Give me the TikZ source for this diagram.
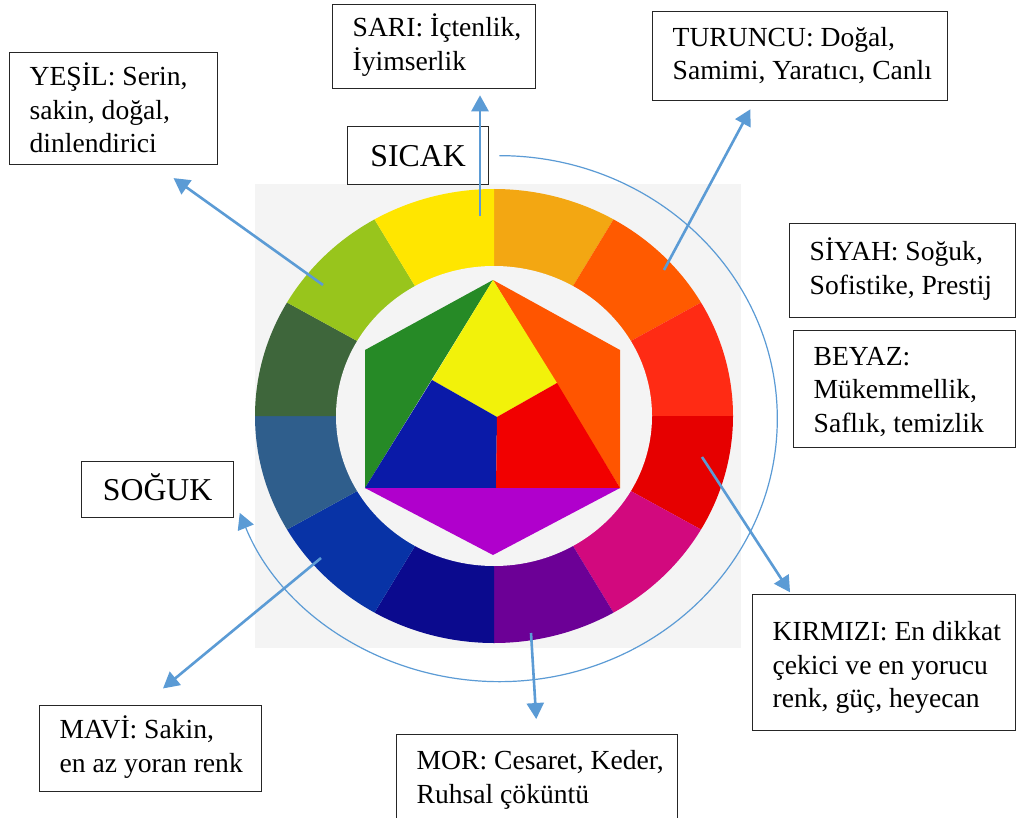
\documentclass[tikz,border=0pt]{standalone}
\usepackage{fontspec}
\setmainfont{Liberation Serif}
\usetikzlibrary{arrows.meta}

\definecolor{arrblue}{HTML}{5B9BD5}
\definecolor{wheelbg}{HTML}{F4F4F4}
\definecolor{cA}{HTML}{F3A712}
\definecolor{cB}{HTML}{FF5A00}
\definecolor{cC}{HTML}{FF2B14}
\definecolor{cD}{HTML}{E60000}
\definecolor{cE}{HTML}{D2097E}
\definecolor{cF}{HTML}{6C0096}
\definecolor{cG}{HTML}{0B0A8E}
\definecolor{cH}{HTML}{0833A6}
\definecolor{cI}{HTML}{2F5E8C}
\definecolor{cJ}{HTML}{3E663B}
\definecolor{cK}{HTML}{98C51C}
\definecolor{cL}{HTML}{FFE600}
\definecolor{hexgreen}{HTML}{268A26}
\definecolor{hexyellow}{HTML}{F2F20A}
\definecolor{hexorange}{HTML}{FF5500}
\definecolor{hexblue}{HTML}{0A1AA8}
\definecolor{hexred}{HTML}{F20000}
\definecolor{hexpurple}{HTML}{B000CC}

% left-aligned lines of a box, no wrapping (optional: lower the text)
\newcommand{\notetext}[3][0pt]{\raisebox{-#1}[\height][\depth]{\makebox[#2][l]{\begin{tabular}{@{}l@{}}#3\end{tabular}}}}

\begin{document}
\begin{tikzpicture}[x=1pt, y=-1pt,
    note/.style={draw=black!85, line width=1.3pt, anchor=north west,
        inner xsep=20pt, inner ysep=0pt, font=\fontsize{27.6}{33.5}\selectfont},
    tag/.style={draw=black!85, line width=1.3pt, anchor=north west, inner sep=0pt,
        text height=21pt, text depth=0pt, font=\fontsize{31.8}{36}\selectfont},
    arr/.style={draw=arrblue, line width=2.6pt, -{Triangle[length=16pt,width=17pt]}},
    arcline/.style={draw=arrblue, line width=1.2pt, -{Triangle[length=16pt,width=17pt]}}]
    \useasboundingbox[fill=white] (0,0) rectangle (1016,818);

    % Wheel
    \fill[wheelbg] (255,184) rectangle (741,648);
    \coordinate (c) at (494,416);
    \foreach \a/\b/\col in {-90/-60/cA,-60/-30/cB,-30/0/cC,0/30/cD,30/60/cE,60/90/cF,
                            90/120/cG,120/150/cH,150/180/cI,180/210/cJ,210/240/cK,240/270/cL} {
        \fill[\col] (c) -- ++(\a:239 and 227) arc[start angle=\a, end angle=\b, x radius=239, y radius=227] -- cycle;
    }
    \fill[wheelbg] (c) ellipse[x radius=158, y radius=150];

    % Hexagon
    \coordinate (hT) at (493,280);
    \coordinate (hUL) at (365,350);
    \coordinate (hUR) at (620,350);
    \coordinate (hLR) at (620,488);
    \coordinate (hB) at (493,555);
    \coordinate (hLL) at (365,488);
    \coordinate (hL) at (432,380);
    \coordinate (hC) at (497,417);
    \coordinate (hR) at (557,383);
    \coordinate (hM) at (496,488);
    \fill[hexgreen] (hT) -- (hUL) -- (hLL) -- cycle;
    \fill[hexorange] (hT) -- (hUR) -- (hLR) -- cycle;
    \fill[hexyellow] (hT) -- (hL) -- (hC) -- (hR) -- cycle;
    \fill[hexblue] (hL) -- (hC) -- (hM) -- (hLL) -- cycle;
    \fill[hexred] (hC) -- (hR) -- (hLR) -- (hM) -- cycle;
    \fill[hexpurple] (hLL) -- (hLR) -- (hB) -- cycle;

    % Boxes
    \node[note, minimum height=112pt] (yesil) at (9,52) {\notetext[4pt]{168pt}{YEŞİL: Serin,\\sakin, doğal,\\dinlendirici}};
    \node[note, minimum height=84pt] (sari) at (332,4) {\notetext{163pt}{SARI: İçtenlik,\\İyimserlik}};
    \node[note, minimum height=89pt] (turuncu) at (652,11) {\notetext{255pt}{TURUNCU: Doğal,\\Samimi, Yaratıcı, Canlı}};
    \node[note, minimum height=94pt] (siyah) at (789,223) {\notetext{186pt}{SİYAH: Soğuk,\\Sofistike, Prestij}};
    \node[note, minimum height=117pt] (beyaz) at (793,330) {\notetext[3pt]{182pt}{BEYAZ:\\Mükemmellik,\\Saflık, temizlik}};
    \node[note, minimum height=136pt] (kirmizi) at (752,594) {\notetext[5pt]{223pt}{KIRMIZI: En dikkat\\çekici ve en yorucu\\renk, güç, heyecan}};
    \node[note, minimum height=86pt] (mavi) at (39,705) {\notetext{182pt}{MAVİ: Sakin,\\en az yoran renk}};
    \node[note, minimum height=96pt] (mor) at (396,734) {\notetext[-3pt]{241pt}{MOR: Cesaret, Keder,\\Ruhsal çöküntü}};
    \node[tag, minimum width=141pt, minimum height=58pt] (sicak) at (347,126) {SICAK};
    \node[tag, minimum width=152pt, minimum height=56pt] (soguk) at (81,461) {SOĞUK};

    % Warm / cold arc
    \draw[arcline] ([xshift=10pt]sicak.east) arc[start angle=-90, end angle=159, x radius=278, y radius=263];

    % Arrows from the wheel
    \coordinate (pSari) at (480,216);
    \coordinate (pTur) at (664,270);
    \coordinate (pYes) at (323,285);
    \coordinate (pKir) at (702,457);
    \coordinate (pMav) at (321,558);
    \coordinate (pMor) at (531,633);
    \draw[arr, shorten >=6pt] (pSari) -- (pSari |- sari.south);
    \draw[arr, shorten >=9pt] (pTur) -- ([xshift=-45.5pt]turuncu.south);
    \draw[arr, shorten >=22pt] (pYes) -- ([xshift=42pt]yesil.south);
    \draw[arr, shorten >=2pt] (pKir) -- ([xshift=-93pt]kirmizi.north);
    \draw[arr, shorten >=26pt] (pMav) -- ([xshift=-7.7pt]mavi.north);
    \draw[arr, shorten >=15pt] (pMor) -- (mor.north);
\end{tikzpicture}
\end{document}
